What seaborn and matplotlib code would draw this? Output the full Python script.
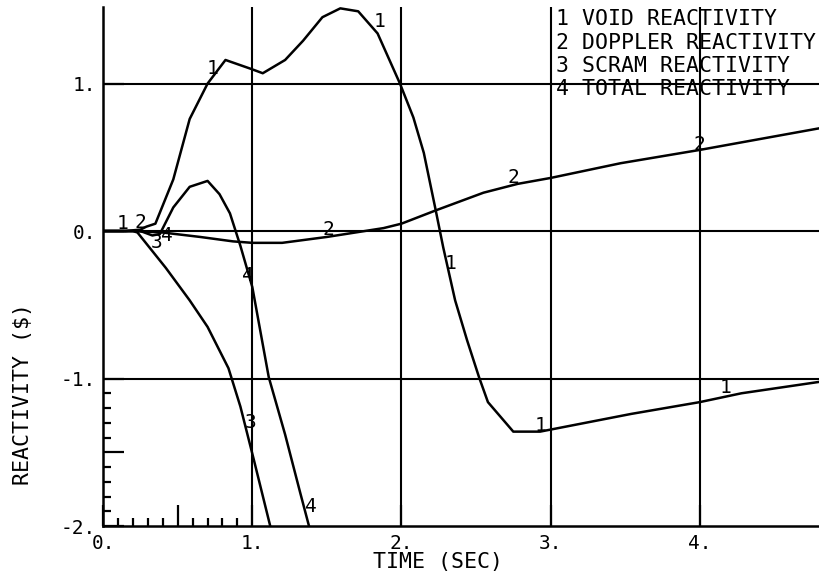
import numpy as np
import pandas as pd
import matplotlib
matplotlib.use('Agg')
import matplotlib.pyplot as plt
from matplotlib.ticker import FixedLocator, FixedFormatter
import seaborn as sns

# curve data
t_void = [0, 0.15, 0.25, 0.29, 0.35, 0.47, 0.58, 0.70, 0.82, 0.99, 1.07, 1.22, 1.34, 1.47,
          1.59, 1.71, 1.84, 1.99, 2.08, 2.15, 2.23, 2.28, 2.36, 2.44, 2.52, 2.58, 2.75, 2.93,
          3.54, 4.0, 4.28, 4.82]
void = [0, 0, 0.01, 0.03, 0.05, 0.35, 0.76, 1.0, 1.16, 1.10, 1.07, 1.16, 1.29, 1.45,
        1.51, 1.49, 1.34, 1.0, 0.77, 0.53, 0.14, -0.11, -0.47, -0.74, -0.99, -1.16, -1.36, -1.36,
        -1.24, -1.16, -1.10, -1.02]

t_dop = [0, 0.2, 0.4, 0.65, 0.87, 1.0, 1.2, 1.5, 1.88, 2.0, 2.23, 2.55, 2.78, 3.0, 3.47, 4.0, 4.82]
doppler = [0, 0, -0.01, -0.04, -0.07, -0.08, -0.08, -0.04, 0.02, 0.05, 0.14, 0.26, 0.32, 0.36,
           0.46, 0.55, 0.70]

t_scram = [0, 0.2, 0.23, 0.42, 0.58, 0.70, 0.84, 0.92, 1.01, 1.12]
scram = [0, 0, -0.01, -0.25, -0.47, -0.65, -0.93, -1.19, -1.55, -2.0]

t_total = [0, 0.25, 0.33, 0.38, 0.47, 0.58, 0.70, 0.78, 0.85, 0.92, 1.0, 1.11, 1.22, 1.32, 1.38]
total = [0, 0, -0.03, -0.02, 0.16, 0.30, 0.34, 0.25, 0.12, -0.10, -0.38, -0.99, -1.38, -1.77, -2.0]

legend_lines = ['1 VOID REACTIVITY', '2 DOPPLER REACTIVITY', '3 SCRAM REACTIVITY', '4 TOTAL REACTIVITY']

# curve number markers (label, t, value)
marks = [('1', 0.13, 0.05), ('2', 0.25, 0.06), ('3', 0.36, -0.08), ('4', 0.43, -0.03),
         ('1', 0.73, 1.10), ('1', 1.85, 1.42), ('2', 1.51, 0.01), ('2', 2.75, 0.36),
         ('1', 2.33, -0.22), ('2', 4.0, 0.59), ('1', 2.93, -1.32), ('1', 4.17, -1.06),
         ('4', 0.97, -0.30), ('3', 0.99, -1.30), ('4', 1.39, -1.87)]

x_grid = [1, 2, 3, 4]
y_grid = [-1, 0, 1]

sns.set_style('white')
plt.rcParams['font.family'] = ['DejaVu Sans Mono', 'DejaVu Sans']
plt.rcParams['text.color'] = 'black'
plt.rcParams['axes.labelcolor'] = 'black'
plt.rcParams['xtick.color'] = 'black'
plt.rcParams['ytick.color'] = 'black'

fig = plt.figure(figsize=(8.19, 5.73), dpi=100)
ax = fig.add_axes([0.126, 0.082, 0.874, 0.906])

for g in x_grid:
    ax.axvline(g, color='black', lw=1.5, zorder=1)
for g in y_grid:
    ax.axhline(g, color='black', lw=1.5, zorder=1)

for tt, yy in [(t_void, void), (t_dop, doppler), (t_scram, scram), (t_total, total)]:
    sns.lineplot(x=tt, y=yy, ax=ax, color='black', lw=1.8, sort=False, estimator=None, zorder=3)

for lab, tx, ty in marks:
    ax.text(tx, ty, lab, fontsize=14, ha='center', va='center', zorder=4)

for i, line in enumerate(legend_lines):
    ax.text(0.632, 0.995 - i * 0.0445, line, transform=ax.transAxes, fontsize=15.5,
            ha='left', va='top', zorder=4)

ax.set_xlim(0, 4.8)
ax.set_ylim(-2, 1.52)

for s in ['top', 'right']:
    ax.spines[s].set_visible(False)
for s in ['left', 'bottom']:
    ax.spines[s].set_color('black')
    ax.spines[s].set_linewidth(1.8)

# long major ticks hide under the grid lines except at the half-way marks
xt = [0, 0.5, 1, 2, 3, 4]
ax.xaxis.set_major_locator(FixedLocator(xt))
ax.xaxis.set_major_formatter(FixedFormatter(['0.', '', '1.', '2.', '3.', '4.']))
yt = [-2, -1.5, -1, 0, 1]
ax.yaxis.set_major_locator(FixedLocator(yt))
ax.yaxis.set_major_formatter(FixedFormatter(['-2.', '', '-1.', '0.', '1.']))
ax.xaxis.set_minor_locator(FixedLocator([0.1, 0.2, 0.3, 0.4, 0.6, 0.7, 0.8, 0.9]))
ax.yaxis.set_minor_locator(FixedLocator([-1.9, -1.8, -1.7, -1.6, -1.4, -1.3, -1.2, -1.1]))
ax.tick_params(which='major', direction='in', length=15, width=1.6, labelsize=14,
               bottom=True, left=True)
ax.tick_params(axis='x', which='major', pad=6)
ax.tick_params(axis='y', which='major', pad=5)
ax.tick_params(which='minor', direction='in', length=6, width=1.6,
               bottom=True, left=True)

ax.set_xlabel('TIME (SEC)', fontsize=15.5)
ax.xaxis.set_label_coords(0.468, -0.05)
ax.set_ylabel('REACTIVITY ($)', fontsize=15.5)
ax.yaxis.set_label_coords(-0.098, 0.255)

fig.savefig('out.png', dpi=100)
